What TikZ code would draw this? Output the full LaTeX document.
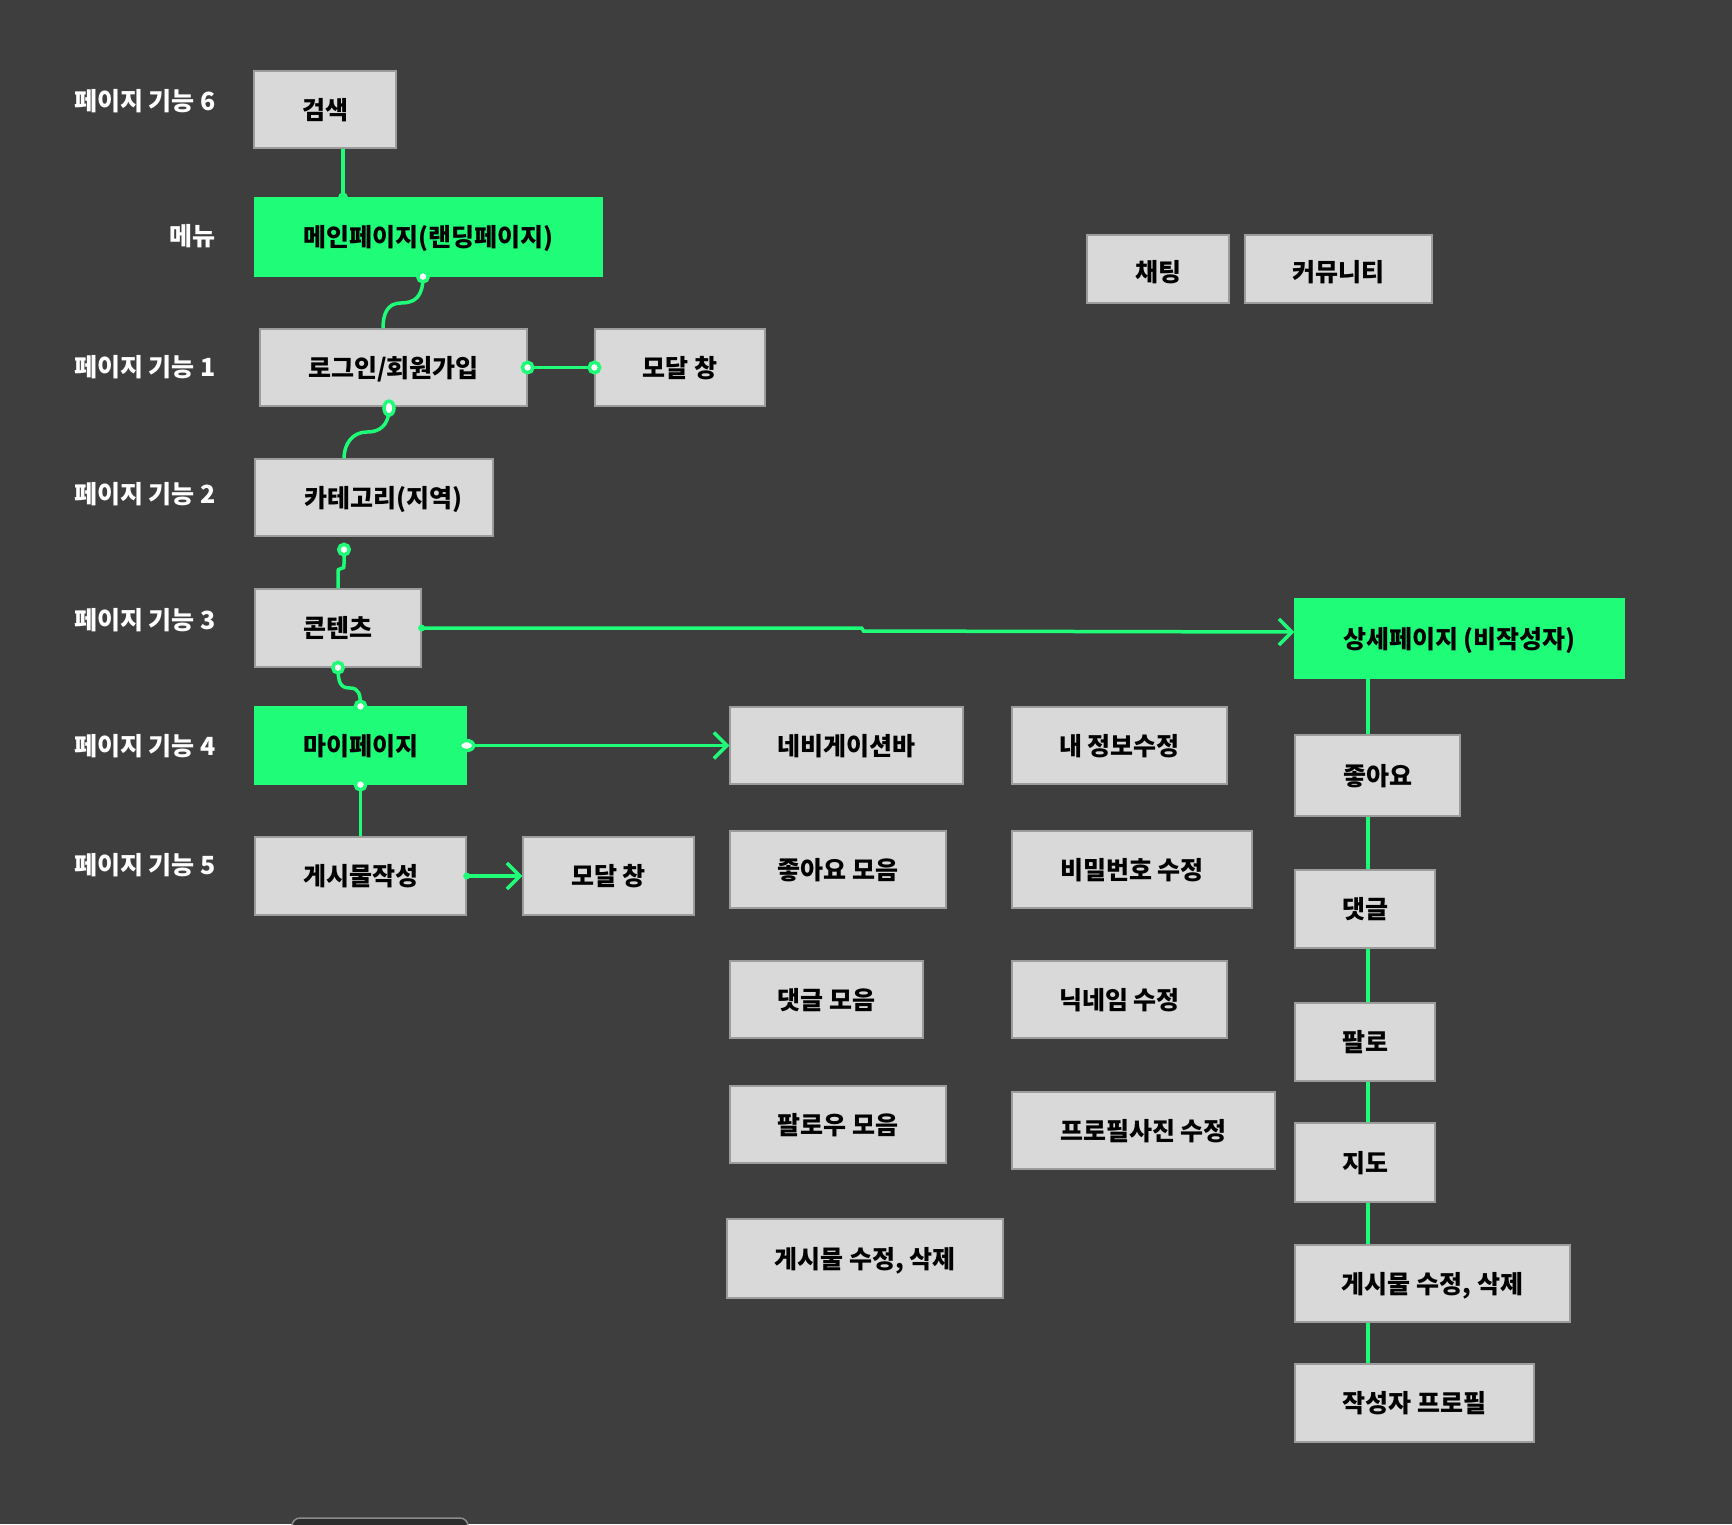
\documentclass[tikz,border=0pt]{standalone}
\usepackage{fontspec}
\setmainfont{Noto Sans CJK KR}
\usetikzlibrary{arrows.meta,shapes.geometric}
\definecolor{bgc}{HTML}{3E3E3E}
\definecolor{grn}{HTML}{1EFC78}
\definecolor{boxg}{HTML}{D9D9D9}
\definecolor{boxe}{HTML}{9C9C9C}
\definecolor{tabf}{HTML}{2C2C2C}
\definecolor{tabe}{HTML}{8C8C8C}
\tikzset{
  txt/.style={font=\fontsize{25}{30}\selectfont\bfseries, text height=19pt, text depth=0pt},
  gbox/.style={rectangle, fill=boxg, draw=boxe, line width=1.2pt, inner sep=0pt, text=black, txt},
  hbox/.style={gbox, fill=grn, draw=grn},
  lowtxt/.style={gbox, text height=25pt},
  lab/.style={anchor=east, text=white, inner sep=0pt, txt},
  conn/.style={draw=grn, line width=3.5pt},
  arr/.style={conn, -{Straight Barb[length=13pt,width=26pt]}},
  port/.style={circle, draw=grn, fill=white, line width=3.5pt, minimum size=10.5pt, inner sep=0pt},
  eport/.style={ellipse, draw=grn, fill=white, line width=3.5pt, minimum width=10pt, minimum height=14pt, inner sep=0pt},
  hport/.style={ellipse, draw=grn, fill=white, line width=3.5pt, minimum width=14pt, minimum height=10pt, inner sep=0pt},
  dot/.style={circle, fill=grn, inner sep=0pt, minimum size=10pt},
  vline/.style={draw=grn, line width=4.5pt}
}
\newcommand\mkbox[7]{\node[#1, minimum width=#5, minimum height=#6] (#2) at (#3,#4) {#7};}
\begin{document}
\begin{tikzpicture}[x=1pt,y=-1pt]
\fill[bgc] (0,0) rectangle (1732,1524);
\useasboundingbox (0,0) rectangle (1732,1524);
\begin{scope}
\clip (0,0) rectangle (1732,1524);
\draw[fill=tabf, draw=tabe, line width=1.5pt, rounded corners=8pt] (292,1518) rectangle (468,1570);
\end{scope}

% left labels
\node[lab] (l6) at (216,100.5) {페이지 기능 6};
\node[lab] (lm) at (216,236) {메뉴};
\node[lab] (l1) at (216,367) {페이지 기능 1};
\node[lab] (l2) at (216,494) {페이지 기능 2};
\node[lab] (l3) at (216,620) {페이지 기능 3};
\node[lab] (l4) at (216,746) {페이지 기능 4};
\node[lab] (l5) at (216,865) {페이지 기능 5};

% boxes
\mkbox{gbox}{search}{325}{109.5}{142}{77}{검색}
\mkbox{hbox}{main}{428.5}{237}{347}{78}{메인페이지(랜딩페이지)}
\mkbox{gbox}{login}{393.5}{367.5}{267}{77}{로그인/회원가입}
\mkbox{gbox}{modalA}{680}{367.5}{170}{77}{모달 창}
\mkbox{gbox}{cat}{374}{497.5}{238}{77}{\hspace{18pt}카테고리(지역)}
\mkbox{gbox}{content}{338}{628}{166}{78}{콘텐츠}
\mkbox{hbox}{mypage}{360.5}{745.5}{211}{77}{마이페이지}
\mkbox{gbox}{write}{360.5}{876}{211}{78}{게시물작성}
\mkbox{gbox}{modalB}{608.5}{876}{171}{78}{모달 창}
\mkbox{lowtxt}{chat}{1158}{269}{142}{68}{채팅}
\mkbox{lowtxt}{comm}{1338.5}{269}{187}{68}{커뮤니티}
\mkbox{gbox}{navi}{846.5}{745.5}{233}{77}{네비게이션바}
\mkbox{gbox}{myinfo}{1119.5}{745.5}{215}{77}{내 정보수정}
\mkbox{gbox}{likes}{838}{869.5}{216}{77}{좋아요 모음}
\mkbox{gbox}{pw}{1132}{869.5}{240}{77}{비밀번호 수정}
\mkbox{gbox}{cmts}{826.5}{999.5}{193}{77}{댓글 모음}
\mkbox{gbox}{nick}{1119.5}{999.5}{215}{77}{닉네임 수정}
\mkbox{gbox}{follows}{838}{1124.5}{216}{77}{팔로우 모음}
\mkbox{gbox}{photo}{1143.5}{1130.5}{263}{77}{프로필사진 수정}
\mkbox{gbox}{editM}{865}{1258.5}{276}{79}{게시물 수정, 삭제}
\mkbox{hbox}{detail}{1459.5}{638.5}{329}{79}{상세페이지 (비작성자)}
\mkbox{gbox}{like}{1377.5}{775.5}{165}{81}{좋아요}
\mkbox{gbox}{cmt}{1365}{909}{140}{78}{댓글}
\mkbox{gbox}{fol}{1365}{1042}{140}{78}{팔로}
\mkbox{gbox}{map}{1365}{1162.5}{140}{79}{지도}
\mkbox{gbox}{editR}{1432.5}{1283.5}{275}{77}{게시물 수정, 삭제}
\mkbox{gbox}{author}{1414.5}{1403}{239}{78}{작성자 프로필}

% connector anchor points
\coordinate (sA) at ([xshift=18pt]search.south);
\coordinate (mA) at ([xshift=-85.5pt]main.north);
\coordinate (pmS) at ([xshift=-5.5pt]main.south);
\coordinate (m1) at (401,303);
\coordinate (lgN) at ([xshift=-10.5pt]login.north);
\coordinate (lgS) at ([xshift=-4.5pt,yshift=-1.5pt]login.south);
\coordinate (m2) at (367,432);
\coordinate (ctN) at ([xshift=-30pt]cat.north);
\coordinate (ctS) at ([xshift=-30pt,yshift=-13pt]cat.south);
\coordinate (cnS) at (content.south);
\coordinate (m3) at (350,688);
\coordinate (rc) at (1368,0);

\draw[conn] (sA) -- (mA);
\draw[conn] (pmS) .. controls +(0,20) and +(14,0) .. (m1) .. controls +(-14,0) and +(0,-14) .. (lgN);
\draw[conn] (login.east) -- (modalA.west);
\draw[conn] (lgS) .. controls +(0,18) and +(12,0) .. (m2) .. controls +(-15,0) and +(0,-14) .. (ctN);
\draw[conn] (ctS) -- ++(0,14) .. controls +(0,4) and +(3,0) .. ++(-3,5) .. controls +(-3,0) and +(0,-4) .. ++(-3,5) -- (content.north);
\draw[conn] (cnS) .. controls +(0,16) and +(-9,0) .. (m3) .. controls +(9,0) and +(0,-12) .. (mypage.north);
\draw[arr] (content.east) -- ++(440,0) -- ++(2,3) -- ([yshift=6.5pt]detail.west);
\draw[arr] (mypage.east) -- (navi.west);
\draw[conn] (mypage.south) -- (write.north);
\draw[arr] (write.east) -- (modalB.west);

\draw[vline] (detail.south -| rc) -- (like.north -| rc);
\draw[vline] (like.south -| rc) -- (cmt.north -| rc);
\draw[vline] (cmt.south -| rc) -- (fol.north -| rc);
\draw[vline] (fol.south -| rc) -- (map.north -| rc);
\draw[vline] (map.south -| rc) -- (editR.north -| rc);
\draw[vline] (editR.south -| rc) -- (author.north -| rc);

% ports
\node[dot] (d1) at (mA) {};
\node[port] (p1) at (pmS) {};
\node[port] (p2) at (login.east) {};
\node[port] (p3) at (modalA.west) {};
\node[eport] (p4) at (lgS) {};
\node[port] (p5) at (ctS) {};
\node[port] (p6) at (cnS) {};
\node[port] (p7) at (mypage.north) {};
\node[dot, minimum size=7pt] (d2) at (content.east) {};
\node[hport] (p8) at (mypage.east) {};
\node[port] (p9) at (mypage.south) {};
\node[dot, minimum size=7pt] (d3) at (write.east) {};
\end{tikzpicture}
\end{document}
